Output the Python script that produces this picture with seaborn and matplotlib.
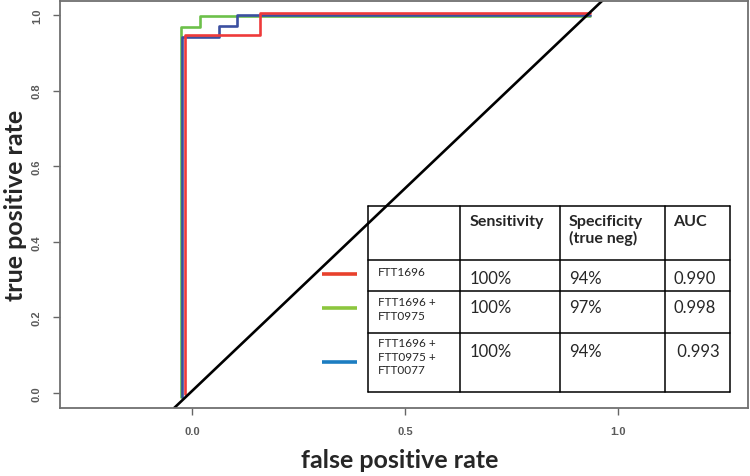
import numpy as np
import pandas as pd
import matplotlib
matplotlib.use('Agg')
import matplotlib.pyplot as plt
import seaborn as sns

# ── DATA ──────────────────────────────────────────────────
red_fpr = [-0.016, 0.160, 0.935]
red_tpr = [-0.003, 0.947, 1.005]
green_fpr = [-0.026, 0.019, 0.935]
green_tpr = [-0.012, 0.968, 0.997]
blue_fpr = [-0.024, 0.063, 0.106, 0.935]
blue_tpr = [-0.012, 0.942, 0.971, 1.000]
diag_x = [-0.042, 0.965]
diag_y = [-0.040, 1.040]

x_ticks = [0.0, 0.5, 1.0]
y_ticks = [0.0, 0.2, 0.4, 0.6, 0.8, 1.0]

headers = ['Sensitivity', 'Specificity\n(true neg)', 'AUC']
models = ['FTT1696', 'FTT1696 +\nFTT0975', 'FTT1696 +\nFTT0975 +\nFTT0077']
sensitivity = ['100%', '100%', '100%']
specificity = ['94%', '97%', '94%']
auc = ['0.990', '0.998', ' 0.993']

curve_colors = ['#ee3a3a', '#6cc04a', '#3b4fa0']
swatch_colors = ['#e8412c', '#8cc63e', '#1c7dc1']

# ── FIGURE ────────────────────────────────────────────────
sns.set_style('white')
plt.rcParams['font.family'] = ['Lato', 'DejaVu Sans']

W, H = 750, 477
fig = plt.figure(figsize=(7.5, 4.77), dpi=100)
ax = fig.add_axes([60 / W, 1 - 409 / H, 688 / W, 407 / H])

# green first, then blue, red on top
for fpr, tpr, col in [(green_fpr, green_tpr, curve_colors[1]),
                      (blue_fpr, blue_tpr, curve_colors[2]),
                      (red_fpr, red_tpr, curve_colors[0])]:
    sns.lineplot(x=fpr, y=tpr, ax=ax, color=col, lw=1.9,
                 drawstyle='steps-pre', sort=False)

sns.lineplot(x=diag_x, y=diag_y, ax=ax, color='black', lw=1.9, sort=False)

ax.set_xlim(-0.31, 1.305)
ax.set_ylim(-0.04, 1.037)
ax.set_xticks(x_ticks)
ax.set_yticks(y_ticks)
ax.set_xticklabels([f'{t:.1f}' for t in x_ticks], family='Liberation Sans',
                   fontsize=8, fontweight='bold', color='#5a5a5a')
ax.set_yticklabels([f'{t:.1f}' for t in y_ticks], family='Liberation Sans',
                   fontsize=8, fontweight='bold', color='#5a5a5a',
                   rotation=90, va='center')
ax.tick_params(axis='both', direction='out', length=5, width=1,
               color='#666666', pad=8, bottom=True, left=True)
for s in ax.spines.values():
    s.set_color('#707070')
    s.set_linewidth(1.3)

xl = ax.set_xlabel('false positive rate', fontsize=18, fontweight='bold')
yl = ax.set_ylabel('true positive rate', fontsize=18, fontweight='bold')
xl.set_va('center')
yl.set_va('center')
ax.xaxis.set_label_coords((400 - 60) / 688, (409 - 461) / 407)
ax.yaxis.set_label_coords((16 - 60) / 688, (409 - 205) / 407)


# ── TABLE (drawn in figure pixel coords) ──────────────────
def fx(x):
    return x / W


def fy(y):
    return 1 - y / H


cols = [368, 460, 560, 665, 730]
rows = [207, 261, 292, 334, 393]
for x in cols:
    fig.add_artist(plt.Line2D([fx(x), fx(x)], [fy(rows[0]), fy(rows[-1])],
                              color='black', lw=1.1))
for y in rows:
    fig.add_artist(plt.Line2D([fx(cols[0]), fx(cols[-1])], [fy(y), fy(y)],
                              color='black', lw=1.1))

hdr_x = [470, 569, 673]
for x, t in zip(hdr_x, headers):
    fig.text(fx(x), fy(215), t, fontsize=11.5, fontweight='bold',
             va='top', ha='left', linespacing=1.2)

row_top = [267, 297, 338]
val_top = [271, 300, 344]
for i in range(3):
    fig.text(fx(378), fy(row_top[i]), models[i], fontsize=8.5,
             va='top', ha='left', linespacing=1.3)
    for x, t in zip(hdr_x, [sensitivity[i], specificity[i], auc[i]]):
        fig.text(fx(x), fy(val_top[i]), t, fontsize=12, va='top', ha='left')

sw_y = [275, 309, 363]
for y, c in zip(sw_y, swatch_colors):
    fig.add_artist(plt.Line2D([fx(322), fx(357)], [fy(y), fy(y)],
                              color=c, lw=2.6, solid_capstyle='butt'))

fig.savefig('out.png', dpi=100)
